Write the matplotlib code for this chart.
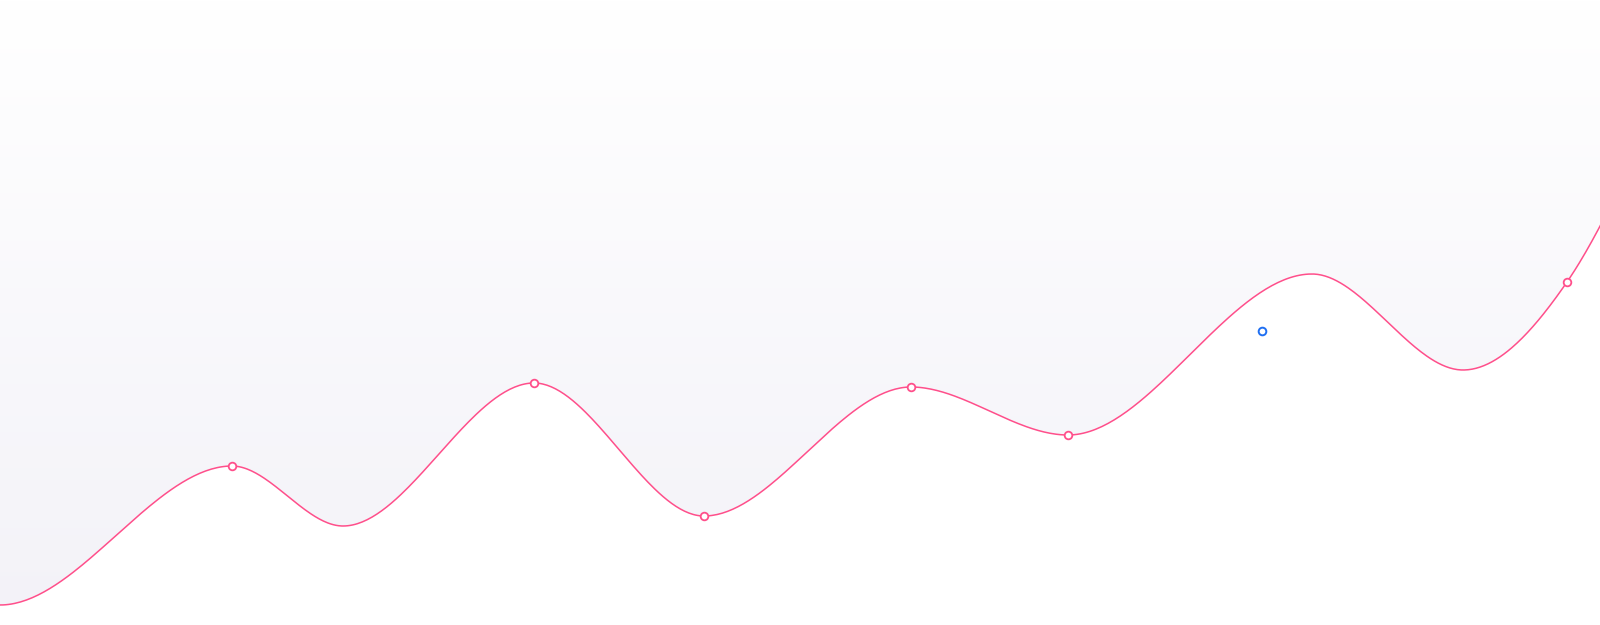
import numpy as np
import matplotlib.pyplot as plt
from matplotlib.colors import LinearSegmentedColormap
from matplotlib.path import Path
from matplotlib.patches import PathPatch

# wave points (x position, value); y axis runs 0..625 upwards
# first and last points sit just outside the visible area
xs = [-230, 0, 232, 343, 534, 704, 911, 1068, 1312, 1463, 1567, 1690]
values = [155, 20, 159, 99, 242, 109, 238, 190, 351, 255, 343, 585]
marked = [2, 4, 5, 6, 7, 10]         # points that get a circle marker
extra_x = [1262]                     # separate blue point
extra_y = [294]

line_color = '#ff4f8b'
blue = '#1f6ff2'


def smooth_path(x, y):
    # cubic hermite: flat at peaks/troughs, central slope elsewhere
    x = np.asarray(x, float)
    y = np.asarray(y, float)
    n = len(x)
    d = np.zeros(n)
    d[0] = (y[1] - y[0]) / (x[1] - x[0])
    d[-1] = (y[-1] - y[-2]) / (x[-1] - x[-2])
    for i in range(1, n - 1):
        if (y[i] - y[i - 1]) * (y[i + 1] - y[i]) > 0:
            d[i] = (y[i + 1] - y[i - 1]) / (x[i + 1] - x[i - 1])
    verts = [(x[0], y[0])]
    codes = [Path.MOVETO]
    for i in range(n - 1):
        h = x[i + 1] - x[i]
        verts += [(x[i] + h / 3, y[i] + d[i] * h / 3),
                  (x[i + 1] - h / 3, y[i + 1] - d[i + 1] * h / 3),
                  (x[i + 1], y[i + 1])]
        codes += [Path.CURVE4] * 3
    return Path(verts, codes)


fig = plt.figure(figsize=(16, 6.25), dpi=100)
ax = fig.add_axes([0, 0, 1, 1])
ax.axis('off')

curve = smooth_path(xs, values)
ts = np.linspace(0, 1, 80)
pts = np.vstack([seg(ts) for seg, code in curve.iter_bezier() if code == Path.CURVE4])
cx, cy = pts[:, 0], pts[:, 1]

# gradient area above the line
area = ax.fill_between(cx, cy, 700, color='none', lw=0)
cmap = LinearSegmentedColormap.from_list('fade', ['#f3f2f8', '#ffffff'])
grad = np.linspace(0, 1, 256).reshape(-1, 1)
img = ax.imshow(grad, extent=[0, 1600, 0, 625], origin='lower', cmap=cmap,
                aspect='auto', zorder=1)
img.set_clip_path(area.get_paths()[0], transform=ax.transData)

ax.plot(cx, cy, color=line_color, lw=1.1, zorder=3, antialiased=True)

ax.plot([xs[i] for i in marked], [values[i] for i in marked], 'o', ms=5.5,
        mfc='white', mec=line_color, mew=1.3, zorder=4)
ax.plot(extra_x, extra_y, 'o', ms=5.5, mfc='white', mec=blue, mew=1.4, zorder=4)

ax.set_xlim(0, 1600)
ax.set_ylim(0, 625)

fig.savefig('out.png', dpi=100)
